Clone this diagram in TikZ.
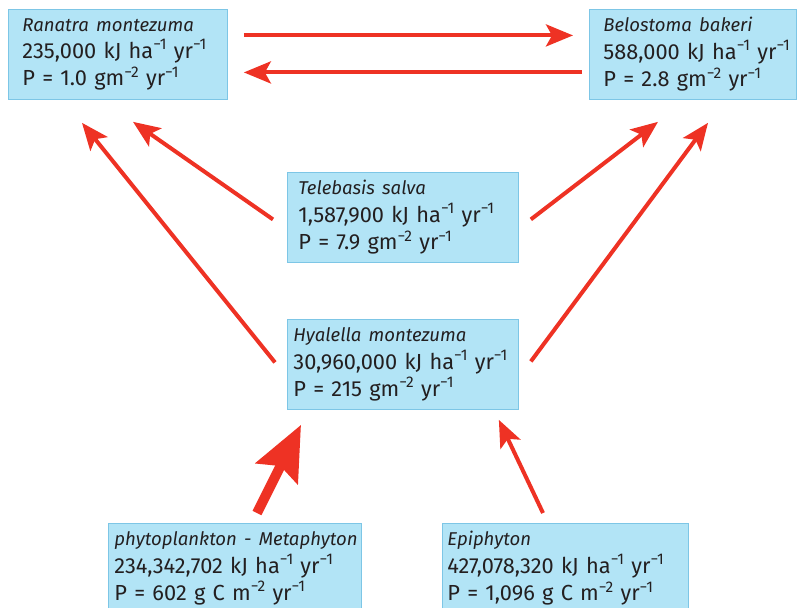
\documentclass[tikz,border=0pt]{standalone}
\usepackage{fontspec}
\setmainfont{Fira Sans}
\usetikzlibrary{arrows.meta}
\definecolor{boxfill}{RGB}{178,228,246}
\definecolor{boxline}{RGB}{125,198,230}
\definecolor{flowred}{RGB}{238,50,36}
\definecolor{ink}{RGB}{35,31,32}
\newcommand{\inv}[1]{\raisebox{0.4em}{\fontsize{11}{11}\selectfont −#1}}
\newcommand{\taxon}[1]{{\fontsize{13.2}{19.5}\selectfont\itshape #1}}

\begin{document}
\begin{tikzpicture}[x=0.25mm,y=-0.25mm,
 box/.style={draw=boxline,line width=0.6pt,fill=boxfill,anchor=north west,align=left,
   inner ysep=0pt,minimum height=22.5mm,font=\fontsize{15.5}{19.5}\selectfont,text=ink},
 flow/.style={draw=flowred,line width=1mm,-{Stealth[length=6.75mm,width=5.5mm,inset=1.5mm]}},
 bigflow/.style={flow,line width=2.5mm,-{Stealth[length=13.5mm,width=11.5mm,inset=2mm]}}]
\useasboundingbox (0,0) rectangle (797,607);
\clip (0,0) rectangle (797,607);
% consumers
\node[box,text width=47.75mm,inner xsep=3.5mm] (ran) at (8,9)
 {\taxon{Ranatra montezuma}\\235,000~kJ~ha\inv1~yr\inv1\\P~=~1.0~gm\inv2~yr\inv1};
\node[box,text width=44.75mm,inner xsep=3.5mm] (bel) at (589,9)
 {\taxon{Belostoma bakeri}\\588,000~kJ~ha\inv1~yr\inv1\\P~=~2.8~gm\inv2~yr\inv1};
\node[box,text width=52.25mm,inner xsep=2.75mm] (tel) at (287,172)
 {\taxon{Telebasis salva}\\1,587,900~kJ~ha\inv1~yr\inv1\\P~=~7.9~gm\inv2~yr\inv1};
\node[box,text width=54.75mm,inner xsep=1.5mm] (hya) at (287,319)
 {\taxon{Hyalella montezuma}\\30,960,000~kJ~ha\inv1~yr\inv1\\P~=~215~gm\inv2~yr\inv1};
% producers
\node[box,text width=60.25mm,inner xsep=1.5mm] (phy) at (108,523)
 {\taxon{\mbox{phytoplankton - Metaphyton}}\\234,342,702~kJ~ha\inv1~yr\inv1\\P~=~602~g~C~m\inv2~yr\inv1};
\node[box,text width=59mm,inner xsep=1.25mm] (epi) at (442,523)
 {\taxon{Epiphyton}\\427,078,320~kJ~ha\inv1~yr\inv1\\P~=~1,096~g~C~m\inv2~yr\inv1};
% flows
\draw[flow] ([shift={(16,-19)}]ran.east) -- ([shift={(-16,-19)}]bel.west);
\draw[flow] ([shift={(-7,18)}]bel.west) -- ([shift={(16,18)}]ran.east);
\draw[flow] ([shift={(-12,-2)}]hya.west) -- ([shift={(74,23)}]ran.south west);
\draw[flow] ([shift={(-14,2)}]tel.west) -- ([shift={(125,22)}]ran.south west);
\draw[flow] ([shift={(12,2)}]tel.east) -- ([shift={(69,22)}]bel.south west);
\draw[flow] ([shift={(12,-3)}]hya.east) -- ([shift={(119,23)}]bel.south west);
\draw[bigflow] ([shift={(149,-10)}]phy.north west) -- ([shift={(14,15)}]hya.south west);
\draw[flow] ([shift={(101,-10)}]epi.north west) -- ([shift={(-20,10)}]hya.south east);
\end{tikzpicture}
\end{document}
